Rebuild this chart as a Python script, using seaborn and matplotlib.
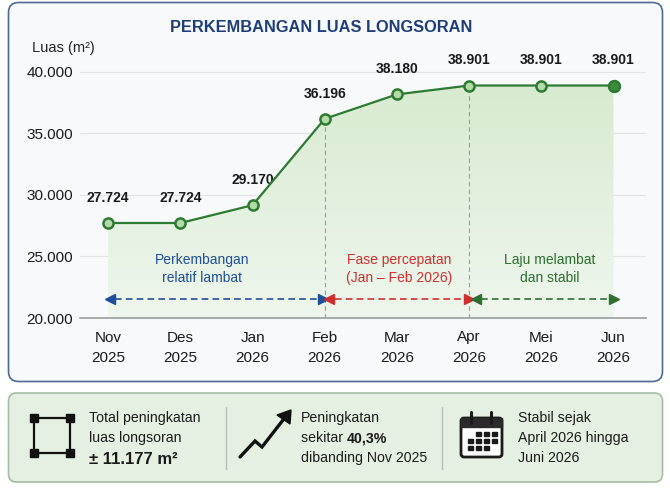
import numpy as np
import pandas as pd
import matplotlib
matplotlib.use("Agg")
from matplotlib import pyplot as plt
from matplotlib.patches import FancyBboxPatch, Rectangle, Polygon
from matplotlib.colors import LinearSegmentedColormap
import seaborn as sns

# data
bulan = ['Nov\n2025', 'Des\n2025', 'Jan\n2026', 'Feb\n2026',
         'Mar\n2026', 'Apr\n2026', 'Mei\n2026', 'Jun\n2026']
luas = [27724, 27724, 29170, 36196, 38180, 38901, 38901, 38901]
label_luas = ['27.724', '27.724', '29.170', '36.196',
              '38.180', '38.901', '38.901', '38.901']
y_ticks = [20000, 25000, 30000, 35000, 40000]
y_tick_labels = ['20.000', '25.000', '30.000', '35.000', '40.000']

df = pd.DataFrame({'pos': np.arange(len(bulan)), 'luas': luas})

sns.set_style('white')
plt.rcParams['font.family'] = ['Liberation Sans', 'DejaVu Sans']

GREEN = '#2e7a32'
fig = plt.figure(figsize=(6.7, 4.9), dpi=100, facecolor='white')

# background overlay in pixel coordinates
bg = fig.add_axes([0, 0, 1, 1])
bg.set_xlim(0, 670)
bg.set_ylim(490, 0)
bg.axis('off')
bg.set_zorder(0)

bg.add_patch(FancyBboxPatch((8.5, 2.5), 654, 379,
                            boxstyle='round,pad=0,rounding_size=10',
                            facecolor='#f7f9fb', edgecolor='#4d6a90', lw=1.2))
bg.add_patch(FancyBboxPatch((8.5, 393), 654, 89,
                            boxstyle='round,pad=0,rounding_size=8',
                            facecolor='#e5f0e2', edgecolor='#a6bda2', lw=1.2))

bg.text(321, 27, 'PERKEMBANGAN LUAS LONGSORAN', ha='center', va='center',
        fontsize=11.8, fontweight='bold', color='#1f3e78')
bg.text(32, 48, 'Luas (m²)', ha='left', va='center', fontsize=10.5,
        color='#222222')

# main chart
ax = fig.add_axes([80 / 670, 1 - 318 / 490, 566 / 670, 258.3 / 490])
ax.set_zorder(1)
ax.patch.set_alpha(0)

x_lo, x_hi = -0.39, 7.45
ax.set_xlim(x_lo, x_hi)
ax.set_ylim(20000, 41000)

# gradient fill under the line
poly = ax.fill_between(df['pos'], df['luas'], 20000, color='none', lw=0)
cmap = LinearSegmentedColormap.from_list('g', ['#eff6ed', '#d6eacf'])
grad = np.linspace(0, 1, 256).reshape(-1, 1)
im = ax.imshow(grad, extent=[x_lo, x_hi, 20000, 40000], origin='lower',
               cmap=cmap, aspect='auto', zorder=1)
im.set_clip_path(poly.get_paths()[0], transform=ax.transData)

for yv in y_ticks:
    ax.axhline(yv, color='#e3e3e3', lw=0.8, zorder=0)

# vertical dashed guides at Feb and Apr
for i in (3, 5):
    ax.vlines(i, 20000, luas[i], colors='#9a9a9a', lw=0.8,
              linestyles=(0, (4, 3)), zorder=2)

sns.lineplot(data=df, x='pos', y='luas', ax=ax, color=GREEN, lw=1.6,
             marker='o', markersize=7.3, markerfacecolor='#b3dba9',
             markeredgecolor=GREEN, markeredgewidth=1.8, zorder=4)
ax.plot(df['pos'].iloc[-1], luas[-1], 'o', ms=7.8, mfc='#3d8b3d',
        mec=GREEN, mew=1.8, zorder=5)

for i, (v, t) in enumerate(zip(luas, label_luas)):
    ax.annotate(t, (i, v), xytext=(0, 13), textcoords='offset points',
                ha='center', va='bottom', fontsize=10, fontweight='bold',
                color='#1a1a1a')

# phase annotations
fases = [
    ('Perkembangan\nrelatif lambat', 1.3, 0.02, 2.97, '#1f4f99'),
    ('Fase percepatan\n(Jan – Feb 2026)', 4.03, 3.06, 5.0, '#cf2e2e'),
    ('Laju melambat\ndan stabil', 6.12, 5.09, 7.0, '#2d6e31'),
]
y_arrow = 21550
for teks, xt, xa, xb, c in fases:
    ax.text(xt, 24000, teks, ha='center', va='center', fontsize=10,
            color=c, linespacing=1.35, zorder=6)
    ax.plot([xa + 0.08, xb - 0.08], [y_arrow, y_arrow], color=c, lw=1.2,
            ls=(0, (4, 2.5)), zorder=6)
    ax.plot(xa, y_arrow, marker='<', ms=6.5, color=c, zorder=6)
    ax.plot(xb, y_arrow, marker='>', ms=6.5, color=c, zorder=6)

ax.set_xticks(df['pos'], bulan)
ax.set_yticks(y_ticks, y_tick_labels)
ax.tick_params(axis='x', length=0, pad=9, labelsize=11, labelcolor='#1a1a1a')
ax.tick_params(axis='y', length=3, color='#bbbbbb', pad=2, labelsize=11,
               labelcolor='#1a1a1a')
for lab in ax.get_xticklabels():
    lab.set_linespacing(1.55)
ax.set_xlabel('')
ax.set_ylabel('')
for s in ('top', 'right', 'left'):
    ax.spines[s].set_visible(False)
ax.spines['bottom'].set_color('#9c9c9c')
ax.spines['bottom'].set_linewidth(1.2)

# bottom summary panel
for xd in (226, 442):
    bg.plot([xd, xd], [407, 469], color='#b5bdb4', lw=1)

tc = '#1a1a1a'
fs = 10.2
bg.text(89, 418, 'Total peningkatan', fontsize=fs, va='center', color=tc)
bg.text(89, 438, 'luas longsoran', fontsize=fs, va='center', color=tc)
bg.text(89, 459, '± 11.177 m²', fontsize=12, fontweight='bold', va='center',
        color=tc)

bg.text(301, 418, 'Peningkatan', fontsize=fs, va='center', color=tc)
t1 = bg.text(301, 438, 'sekitar ', fontsize=fs, va='center', color=tc)
bg.annotate('40,3%', xy=(1, 0), xycoords=t1, va='bottom', ha='left',
            fontsize=fs, fontweight='bold', color=tc)
bg.text(301, 458, 'dibanding Nov 2025', fontsize=fs, va='center', color=tc)

bg.text(518, 418, 'Stabil sejak', fontsize=fs, va='center', color=tc)
bg.text(518, 438, 'April 2026 hingga', fontsize=fs, va='center', color=tc)
bg.text(518, 458, 'Juni 2026', fontsize=fs, va='center', color=tc)

# icon: area square
sq = [(34, 418), (70, 418), (70, 453), (34, 453), (34, 418)]
bg.plot([p[0] for p in sq], [p[1] for p in sq], color='#111111', lw=1.6)
bg.plot([p[0] for p in sq[:4]], [p[1] for p in sq[:4]], 's', ms=6,
        color='#111111')

# icon: rising arrow
zig = [(240, 457), (255, 441), (262, 447), (283, 420)]
bg.plot([p[0] for p in zig], [p[1] for p in zig], color='#111111', lw=2.4,
        solid_joinstyle='miter')
bg.add_patch(Polygon([(291, 410), (290, 424), (277, 415)], closed=True,
                     color='#111111'))

# icon: calendar
bg.add_patch(FancyBboxPatch((461, 418), 41, 39,
                            boxstyle='round,pad=0,rounding_size=3',
                            facecolor='white', edgecolor='#1a1a1a', lw=2))
bg.add_patch(Rectangle((461, 418), 41, 9, color='#2a2a2a'))
for xr in (471, 491):
    bg.plot([xr, xr], [412, 423], color='#1a1a1a', lw=2.2,
            solid_capstyle='round')
cols = [468, 476, 484, 492]
rows = [(434, cols[1:]), (441, cols), (448, cols[:3])]
for yr, cs in rows:
    for xc in cs:
        bg.add_patch(Rectangle((xc, yr - 2.2), 4.6, 4.6, color='#1a1a1a'))

fig.savefig('out.png', dpi=100, facecolor='white')
